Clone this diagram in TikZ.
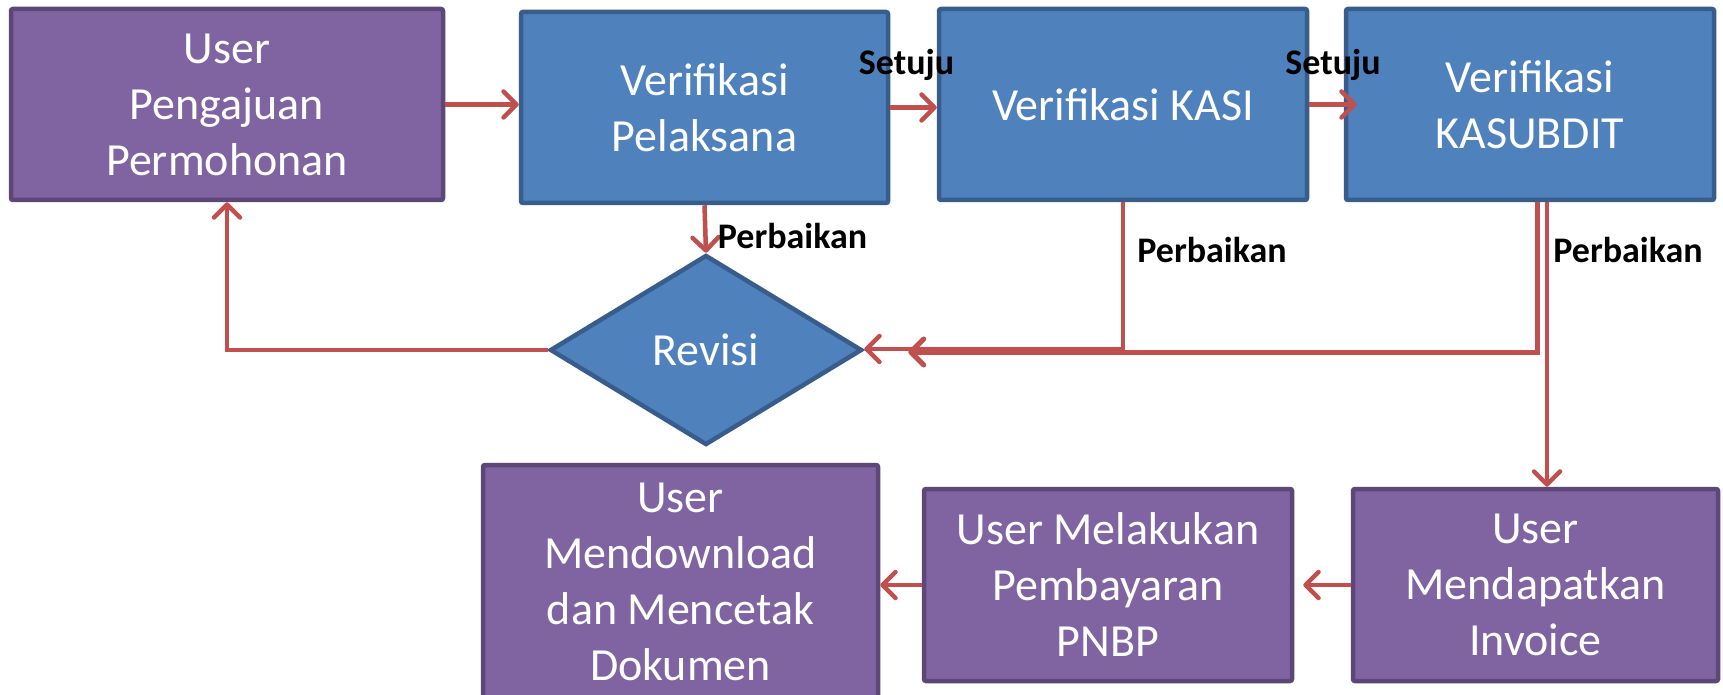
\documentclass[tikz,border=0pt]{standalone}
\usepackage{fontspec}
\setmainfont{Carlito}
\usetikzlibrary{arrows.meta,shapes.geometric,calc}
\definecolor{purfill}{HTML}{8064A2}
\definecolor{purdraw}{HTML}{5C4776}
\definecolor{bluefill}{HTML}{4F81BD}
\definecolor{bluedraw}{HTML}{385D8A}
\definecolor{arrcol}{HTML}{C0504D}
\begin{document}
\begin{tikzpicture}[x=1pt,y=-1pt,
  box/.style={rectangle, rounded corners=2pt, line width=4.5pt, inner sep=0pt, align=center, text=white, font=\fontsize{46}{56}\selectfont},
  pbox/.style={box, fill=purfill, draw=purdraw},
  bbox/.style={box, fill=bluefill, draw=bluedraw},
  conn/.style={draw=arrcol, line width=4.5pt, -{Straight Barb[length=13pt,width=26pt,round]}},
  lbl/.style={font=\fontsize{36}{40}\selectfont\bfseries, anchor=base, inner sep=0pt, text=black}]
\useasboundingbox (0,0) rectangle (1723,695);
\fill[white] (0,0) rectangle (1723,695);
\clip (0,0) rectangle (1723,695);

\node[pbox, minimum width=432pt, minimum height=191pt] (b1) at (227,104.5) {User\\Pengajuan\\Permohonan};
\node[bbox, minimum width=367pt, minimum height=191pt] (b2) at (704.5,107.5) {Verifikasi\\Pelaksana};
\node[bbox, minimum width=368pt, minimum height=191pt] (b3) at (1123,104.5) {Verifikasi KASI};
\node[bbox, minimum width=368pt, minimum height=191pt] (b4) at (1530,104.5) {Verifikasi\\KASUBDIT};
\node[diamond, fill=bluefill, draw=bluedraw, line width=4.5pt, inner sep=0pt, minimum width=312pt, minimum height=190pt, text=white, font=\fontsize{46}{56}\selectfont] (rev) at (706,350) {Revisi};
\node[pbox, minimum width=395pt, minimum height=234pt] (dl) at (680.5,582) {User\\Mendownload\\dan Mencetak\\Dokumen};
\node[pbox, minimum width=368pt, minimum height=192pt] (pn) at (1108,585) {User Melakukan\\Pembayaran\\PNBP};
\node[pbox, minimum width=365pt, minimum height=192pt] (inv) at (1535.5,585) {User\\Mendapatkan\\Invoice};

\coordinate (k4a) at ([xshift=7pt]b4.south);
\coordinate (k4b) at ([xshift=17pt]b4.south);

\draw[conn] (b1.east) -- (b1.east -| b2.west);
\draw[conn] (b2.east) -- (b2.east -| b3.west);
\draw[conn, shorten >=-13pt] (b3.east) -- (b3.east -| b4.west);
\draw[conn] (b2.south) -- (rev.north);
\draw[conn] (rev.west) -| (b1.south);
\draw[conn, line width=5pt, shorten >=44pt] (k4a) |- ([yshift=-2pt]rev.east);
\draw[conn] (b3.south) |- ([yshift=1pt]rev.east);
\draw[conn] (k4b) -- (k4b |- inv.north);
\draw[conn, shorten >=9pt] (inv.west) -- (inv.west -| pn.east);
\draw[conn] (pn.west) -- (pn.west -| dl.east);

\node[lbl] (s1) at (906.5,75) {Setuju};
\node[lbl] (s2) at (1333,75) {Setuju};
\node[lbl] (p1) at (792.5,248) {Perbaikan};
\node[lbl] (p2) at (1212,262) {Perbaikan};
\node[lbl] (p3) at (1628,262) {Perbaikan};
\end{tikzpicture}
\end{document}
